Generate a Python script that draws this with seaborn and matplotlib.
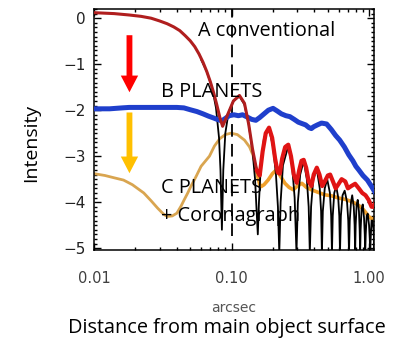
import numpy as np
import pandas as pd
import matplotlib
matplotlib.use("Agg")
import matplotlib.pyplot as plt
import seaborn as sns

# ---------------- data ----------------
a_x = [0.010, 0.014, 0.018, 0.022, 0.026, 0.030, 0.034, 0.038, 0.042, 0.046,
       0.050, 0.054, 0.058, 0.062, 0.066, 0.070, 0.074, 0.078, 0.082, 0.086,
       0.095, 0.103, 0.114, 0.124, 0.133, 0.142, 0.152, 0.160, 0.168, 0.177,
       0.187, 0.197, 0.207, 0.216, 0.224, 0.233, 0.245, 0.258, 0.270, 0.283,
       0.297, 0.310, 0.322, 0.334, 0.348, 0.363, 0.380, 0.395, 0.416, 0.435,
       0.455, 0.475, 0.500, 0.520, 0.545, 0.570, 0.600, 0.630, 0.670, 0.700,
       0.740, 0.790, 0.840, 0.890, 0.940, 0.990, 1.040, 1.080, 1.120, 1.160]
a_y = [0.12, 0.10, 0.07, 0.04, 0.00, -0.06, -0.12, -0.19, -0.27, -0.38,
       -0.49, -0.62, -0.78, -0.96, -1.16, -1.38, -1.62, -1.88, -2.15, -2.35,
       -2.05, -1.80, -1.68, -1.85, -2.30, -2.85, -3.30, -3.42, -2.90, -2.50,
       -2.38, -2.60, -3.05, -3.35, -3.38, -3.05, -2.80, -2.75, -3.00, -3.40,
       -3.58, -3.30, -3.10, -3.08, -3.25, -3.55, -3.65, -3.40, -3.25, -3.40,
       -3.65, -3.55, -3.42, -3.40, -3.55, -3.70, -3.60, -3.50, -3.55, -3.70,
       -3.65, -3.60, -3.70, -3.80, -3.85, -3.95, -4.10, -4.10, -3.98, -3.88]

b_x = [0.010, 0.013, 0.016, 0.018, 0.022, 0.027, 0.033, 0.040, 0.045, 0.050,
       0.056, 0.062, 0.068, 0.074, 0.080, 0.085, 0.090, 0.096, 0.104, 0.112,
       0.120, 0.130, 0.140, 0.150, 0.160, 0.172, 0.185, 0.200, 0.215, 0.230,
       0.248, 0.265, 0.285, 0.305, 0.324, 0.345, 0.365, 0.380, 0.395, 0.420,
       0.450, 0.490, 0.530, 0.570, 0.610, 0.660, 0.710, 0.760, 0.800, 0.840,
       0.900, 0.970, 1.040, 1.110, 1.160]
b_y = [-1.97, -1.97, -1.95, -1.94, -1.94, -1.94, -1.94, -1.94, -1.95, -1.99,
       -2.03, -2.08, -2.13, -2.17, -2.21, -2.23, -2.18, -2.12, -2.10, -2.12,
       -2.10, -2.15, -2.20, -2.22, -2.16, -2.08, -2.00, -1.96, -2.02, -2.08,
       -2.12, -2.14, -2.20, -2.26, -2.29, -2.32, -2.38, -2.40, -2.36, -2.32,
       -2.28, -2.30, -2.42, -2.55, -2.65, -2.80, -2.97, -3.10, -3.22, -3.30,
       -3.42, -3.52, -3.66, -3.80, -3.85]

c_x = [0.010, 0.012, 0.014, 0.0164, 0.019, 0.023, 0.026, 0.029, 0.032, 0.034,
       0.037, 0.040, 0.043, 0.0452, 0.048, 0.0505, 0.055, 0.060, 0.069, 0.075,
       0.082, 0.090, 0.099, 0.110, 0.124, 0.135, 0.143, 0.150, 0.155, 0.160,
       0.164, 0.172, 0.184, 0.198, 0.211, 0.225, 0.244, 0.262, 0.281, 0.300,
       0.324, 0.350, 0.380, 0.420, 0.476, 0.530, 0.600, 0.670, 0.750, 0.820,
       0.890, 0.940, 0.990, 1.040, 1.080, 1.120, 1.160]
c_y = [-3.38, -3.42, -3.47, -3.52, -3.62, -3.80, -3.97, -4.13, -4.26, -4.31,
       -4.30, -4.24, -4.08, -3.95, -3.80, -3.66, -3.45, -3.22, -3.00, -2.78,
       -2.62, -2.53, -2.50, -2.53, -2.65, -2.80, -2.98, -3.25, -3.44, -3.62,
       -3.66, -3.62, -3.52, -3.38, -3.30, -3.42, -3.59, -3.68, -3.73, -3.65,
       -3.59, -3.68, -3.73, -3.78, -3.84, -3.86, -3.91, -3.94, -3.99, -4.05,
       -4.13, -4.22, -4.31, -4.36, -4.38, -4.28, -4.15]

psf_x = [0.060, 0.066, 0.072, 0.077, 0.081, 0.083, 0.085, 0.087, 0.090, 0.095,
         0.103, 0.114, 0.124, 0.133, 0.142, 0.148, 0.152, 0.155, 0.158, 0.163,
         0.172, 0.187, 0.200, 0.210, 0.217, 0.222, 0.227, 0.236, 0.258, 0.275,
         0.287, 0.296, 0.303, 0.315, 0.334, 0.352, 0.363, 0.370, 0.378, 0.392,
         0.416, 0.437, 0.447, 0.453, 0.460, 0.475, 0.495, 0.518, 0.529, 0.536,
         0.543, 0.557, 0.575, 0.595, 0.606, 0.613, 0.622, 0.640, 0.663, 0.690,
         0.704, 0.713, 0.722, 0.737, 0.752, 0.772, 0.783, 0.790, 0.797, 0.810,
         0.825, 0.842, 0.852, 0.859, 0.866, 0.880, 0.897, 0.917, 0.928, 0.935,
         0.943, 0.958, 0.975, 0.997, 1.009, 1.016, 1.024, 1.040, 1.055, 1.075,
         1.085, 1.090, 1.098, 1.115, 1.140, 1.160]
psf_y = [-0.90, -1.16, -1.50, -1.95, -2.60, -3.30, -4.60, -3.30, -2.50, -2.05,
         -1.80, -1.70, -1.88, -2.30, -2.90, -3.50, -4.20, -4.70, -4.00, -3.20,
         -2.60, -2.40, -2.80, -3.40, -4.10, -5.10, -4.00, -3.20, -2.78, -3.20,
         -3.90, -5.10, -4.00, -3.40, -3.10, -3.50, -4.10, -5.10, -4.10, -3.50,
         -3.28, -3.70, -4.20, -5.10, -4.20, -3.70, -3.50, -3.80, -4.30, -5.10,
         -4.30, -3.80, -3.65, -3.90, -4.30, -5.10, -4.30, -3.85, -3.75, -4.00,
         -4.40, -5.10, -4.40, -4.00, -3.85, -4.10, -4.50, -5.10, -4.50, -4.05,
         -3.95, -4.20, -4.60, -5.10, -4.60, -4.15, -4.05, -4.35, -4.70, -5.10,
         -4.70, -4.30, -4.25, -4.50, -4.80, -5.10, -4.80, -4.40, -4.40, -4.60,
         -4.85, -5.10, -4.85, -4.55, -4.45, -4.60]

arrow_x = 0.0181
red_arrow_y = [-0.37, -1.61]
orange_arrow_y = [-2.05, -3.37]

labels = ["A conventional", "B PLANETS", "C PLANETS", "+ Coronagraph"]
label_x = [0.0572, 0.0306, 0.0306, 0.0306]
label_y = [-0.385, -1.72, -3.79, -4.42]

xticks = [0.01, 0.1, 1.0]
xticklabels = ["0.01", "0.10", "1.00"]
yticks = [0, -1, -2, -3, -4, -5]
yticklabels = ["0", "\u22121", "\u22122", "\u22123", "\u22124", "\u22125"]
marker_x = 0.1

# ---------------- figure ----------------
sns.set_style("ticks")
plt.rcParams['font.family'] = ['Open Sans', 'DejaVu Sans']

fig = plt.figure(figsize=(3.94, 3.39), dpi=100)
ax = fig.add_axes([94 / 394, 1 - 250 / 339, (373.5 - 94) / 394, (250 - 9) / 339])

df_a = pd.DataFrame({"x": a_x, "y": a_y})
df_b = pd.DataFrame({"x": b_x, "y": b_y})
df_c = pd.DataFrame({"x": c_x, "y": c_y})
df_p = pd.DataFrame({"x": psf_x, "y": psf_y})

def draw(df, color, lw, z):
    sns.lineplot(data=df, x="x", y="y", ax=ax, color=color, linewidth=lw,
                 estimator=None, sort=False, zorder=z, solid_joinstyle="round")

# orange (C)
draw(df_c[df_c.x <= 0.152], "#d9a550", 2.0, 2)
draw(df_c[df_c.x >= 0.150], "#f0a02c", 2.6, 2)
# black PSF
draw(df_p, "black", 1.3, 3)
# blue (B)
draw(df_b, "#1f3fcc", 3.6, 4)
# red (A)
draw(df_a[df_a.x <= 0.160], "#b01e1e", 2.2, 5)
draw(df_a[df_a.x >= 0.152], "#e01414", 3.0, 5)

ax.axvline(marker_x, ymin=0.06, ymax=1.0, color="black", lw=1.3,
           dashes=(7, 4), zorder=3)

# arrows
for ys, col in [(red_arrow_y, "#ff0000"), (orange_arrow_y, "#ffc000")]:
    ax.annotate("", xy=(arrow_x, ys[1]), xytext=(arrow_x, ys[0]),
                arrowprops=dict(arrowstyle="simple,head_length=1.2,head_width=1.25,tail_width=0.42",
                                color=col, shrinkA=0, shrinkB=0, lw=0),
                zorder=6)

for t, lx, ly in zip(labels, label_x, label_y):
    ax.text(lx, ly, t, fontsize=14.3, ha="left", va="baseline", color="black", zorder=7)

ax.set_xscale("log")
ax.set_xlim(0.01034, 1.074)
ax.set_ylim(-5.04, 0.2)
ax.set_xticks(xticks)
ax.set_xticklabels(xticklabels, family="DejaVu Sans", fontsize=10.5, color="#404040")
ax.set_yticks(yticks)
ax.set_yticklabels(yticklabels, family="DejaVu Sans", fontsize=11, color="#222222")
ax.yaxis.set_minor_locator(matplotlib.ticker.MultipleLocator(0.1))
ax.tick_params(which="both", direction="in", top=True, right=True, color="black")
ax.tick_params(which="major", length=5, width=1.0)
ax.tick_params(which="minor", length=2.5, width=1.0)
ax.tick_params(axis="x", which="major", pad=15)
ax.tick_params(axis="y", which="major", pad=6)
for s in ax.spines.values():
    s.set_linewidth(1.1)
    s.set_color("black")

ax.set_xlabel("arcsec", family="DejaVu Sans", fontsize=10, color="#555555", labelpad=11)
ax.set_ylabel("")
fig.text(30.8 / 394, 1 - 143 / 339, "Intensity", rotation=90, fontsize=14,
         ha="center", va="center", color="black")
fig.text(226.7 / 394, 1 - 333 / 339, "Distance from main object surface",
         fontsize=14.3, ha="center", va="baseline", color="black")

fig.savefig("out.png", dpi=100)
